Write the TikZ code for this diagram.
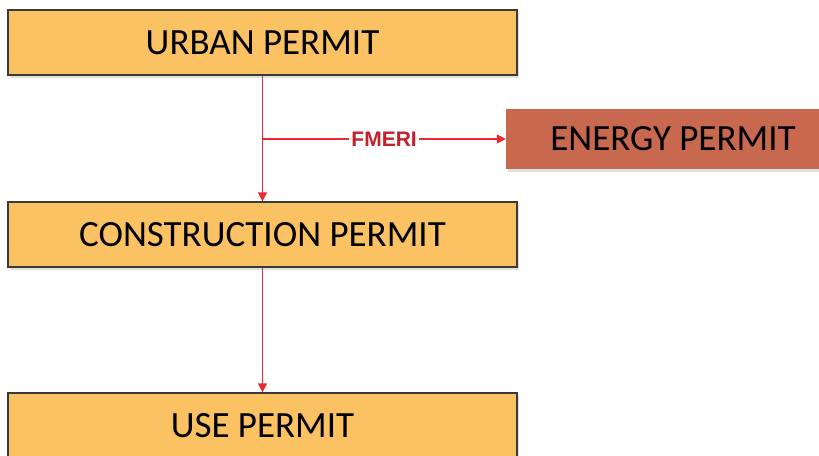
\documentclass[tikz,border=0pt]{standalone}
\usepackage{fontspec}
\setmainfont{Carlito}
\newfontfamily\agencyfont{Liberation Sans}
\usetikzlibrary{arrows.meta,shadows}
\definecolor{permitfill}{HTML}{FBC263}
\definecolor{energyfill}{HTML}{C8684F}
\definecolor{boxline}{HTML}{3A3A3A}
\definecolor{flowred}{HTML}{EA2A30}
\definecolor{agencyred}{HTML}{C2202C}

\begin{document}
\begin{tikzpicture}[x=1pt, y=-1pt,
    permit/.style={draw=boxline, line width=1.3pt, fill=permitfill,
        minimum width=509pt, minimum height=65pt, inner sep=0pt,
        font=\fontsize{37}{40}\selectfont,
        drop shadow={shadow xshift=1.5pt, shadow yshift=-2.5pt, opacity=.25}},
    flow/.style={draw=flowred, line width=1.4pt, -{Triangle[length=9pt, width=9pt]}}]
    \useasboundingbox (0,0) rectangle (819,455);
    \node[permit] (urban) at (262.5,42.5) {URBAN PERMIT};
    \node[permit] (construction) at (262.5,234.5) {CONSTRUCTION PERMIT};
    \node[permit] (use) at (262.5,425.5) {USE PERMIT};
    \node[fill=energyfill, minimum width=334pt, minimum height=60pt, inner sep=0pt,
        font=\fontsize{37}{40}\selectfont,
        drop shadow={shadow xshift=1.5pt, shadow yshift=-2.5pt, opacity=.25}]
        (energy) at (673,139) {ENERGY PERMIT};
    \coordinate (branch) at (urban.south |- energy.west);
    \draw[flow] (urban.south) -- (construction.north);
    \draw[flow] (branch) -- node[fill=white, inner sep=2pt, text=agencyred,
        font=\agencyfont\bfseries\fontsize{21}{24}\selectfont] {FMERI} (energy.west);
    \draw[flow] (construction.south) -- (use.north);
\end{tikzpicture}
\end{document}
